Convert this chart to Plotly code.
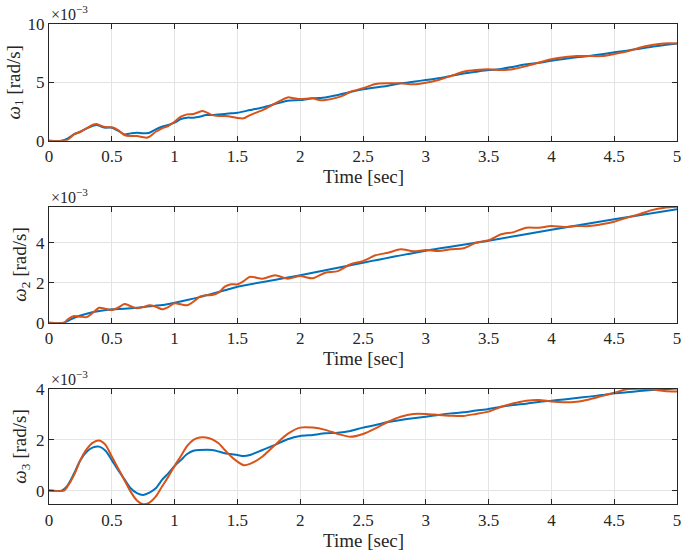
import plotly.graph_objects as go

# ---------------- data (values in units of 1e-3 rad/s) ----------------
t_w1_ref = [0, 0.1, 0.15, 0.2, 0.25, 0.3, 0.35, 0.38, 0.42, 0.45, 0.5, 0.55, 0.6, 0.65, 0.7, 0.75,
            0.8, 0.85, 0.9, 0.95, 1.0, 1.05, 1.1, 1.15, 1.2, 1.25, 1.3, 1.35, 1.4, 1.45, 1.5, 1.6,
            1.7, 1.8, 1.9, 2.0, 2.1, 2.2, 2.3, 2.4, 2.5, 2.6, 2.7, 2.8, 2.9, 3.0, 3.1, 3.2, 3.3,
            3.4, 3.5, 3.6, 3.7, 3.8, 3.9, 4.0, 4.1, 4.2, 4.3, 4.4, 4.5, 4.6, 4.7, 4.8, 4.9, 5.0]
w1_ref = [0, 0, 0.2, 0.57, 0.77, 1.06, 1.29, 1.35, 1.2, 1.12, 1.12, 0.86, 0.54, 0.63, 0.69, 0.63,
          0.69, 0.97, 1.2, 1.35, 1.55, 1.86, 1.98, 1.98, 2.06, 2.2, 2.2, 2.26, 2.29, 2.35, 2.4, 2.63,
          2.86, 3.15, 3.44, 3.49, 3.64, 3.72, 3.92, 4.18, 4.41, 4.58, 4.72, 4.93, 5.07, 5.21, 5.36,
          5.56, 5.78, 5.93, 6.07, 6.16, 6.36, 6.56, 6.70, 6.87, 7.02, 7.16, 7.27, 7.42, 7.59, 7.73,
          7.90, 8.08, 8.22, 8.36]

t_w1_act = [0, 0.12, 0.15, 0.2, 0.25, 0.3, 0.35, 0.38, 0.4, 0.45, 0.5, 0.55, 0.6, 0.65, 0.7, 0.75,
            0.78, 0.8, 0.85, 0.9, 0.95, 1.0, 1.05, 1.1, 1.15, 1.2, 1.22, 1.25, 1.3, 1.35, 1.4, 1.45,
            1.5, 1.55, 1.6, 1.7, 1.8, 1.9, 1.95, 2.0, 2.1, 2.15, 2.2, 2.3, 2.35, 2.4, 2.5, 2.6, 2.7,
            2.8, 2.9, 3.0, 3.1, 3.2, 3.3, 3.4, 3.5, 3.6, 3.7, 3.8, 3.9, 4.0, 4.1, 4.2, 4.3, 4.4,
            4.5, 4.6, 4.7, 4.8, 4.9, 5.0]
w1_act = [0, 0, 0.1, 0.54, 0.77, 1.06, 1.37, 1.43, 1.35, 1.17, 1.15, 0.92, 0.49, 0.4, 0.4, 0.29,
          0.26, 0.34, 0.77, 1.06, 1.26, 1.63, 2.06, 2.26, 2.29, 2.49, 2.55, 2.46, 2.2, 2.12, 2.12,
          2.06, 1.95, 1.92, 2.2, 2.63, 3.2, 3.72, 3.65, 3.58, 3.64, 3.49, 3.49, 3.72, 3.92, 4.21,
          4.50, 4.87, 4.93, 4.93, 4.84, 4.98, 5.21, 5.56, 5.93, 6.07, 6.13, 6.07, 6.16, 6.41, 6.70,
          6.99, 7.16, 7.27, 7.27, 7.27, 7.45, 7.65, 7.99, 8.22, 8.36, 8.36]

t_w2_ref = [0, 0.12, 0.2, 0.3, 0.4, 0.5, 0.6, 0.7, 0.8, 0.9, 1.0, 1.1, 1.2, 1.3, 1.4, 1.5,
            2.0, 2.5, 3.0, 3.5, 4.0, 4.5, 5.0]
w2_ref = [0, 0, 0.25, 0.45, 0.58, 0.67, 0.7, 0.75, 0.82, 0.88, 1.0, 1.13, 1.28, 1.45, 1.62, 1.8,
          2.37, 3.0, 3.6, 4.1, 4.65, 5.17, 5.67]

t_w2_act = [0, 0.12, 0.15, 0.2, 0.25, 0.3, 0.35, 0.4, 0.45, 0.5, 0.55, 0.6, 0.65, 0.7, 0.75, 0.8,
            0.85, 0.9, 0.95, 1.0, 1.05, 1.1, 1.15, 1.2, 1.25, 1.3, 1.35, 1.4, 1.45, 1.5, 1.55, 1.6,
            1.7, 1.8, 1.9, 2.0, 2.1, 2.2, 2.3, 2.4, 2.5, 2.6, 2.7, 2.8, 2.9, 3.0, 3.1, 3.2, 3.3,
            3.4, 3.5, 3.6, 3.7, 3.8, 3.9, 4.0, 4.1, 4.2, 4.3, 4.4, 4.5, 4.6, 4.7, 4.8, 4.9, 5.0]
w2_act = [0, 0, 0.17, 0.33, 0.3, 0.28, 0.5, 0.75, 0.7, 0.63, 0.75, 0.93, 0.83, 0.72, 0.78, 0.87,
          0.8, 0.67, 0.78, 0.97, 0.92, 0.87, 1.05, 1.3, 1.37, 1.38, 1.5, 1.8, 1.92, 1.92, 2.08, 2.3,
          2.2, 2.37, 2.2, 2.33, 2.22, 2.5, 2.58, 2.92, 3.08, 3.37, 3.5, 3.67, 3.57, 3.63, 3.58,
          3.67, 3.72, 4.0, 4.12, 4.42, 4.53, 4.75, 4.75, 4.83, 4.78, 4.83, 4.83, 4.92, 5.05, 5.25,
          5.42, 5.63, 5.75, 5.8]

t_w3_ref = [0, 0.1, 0.15, 0.2, 0.25, 0.3, 0.35, 0.4, 0.45, 0.5, 0.55, 0.6, 0.65, 0.7, 0.75, 0.8,
            0.85, 0.9, 0.95, 1.0, 1.05, 1.1, 1.15, 1.2, 1.3, 1.4, 1.5, 1.55, 1.6, 1.7, 1.8, 1.9,
            2.0, 2.1, 2.2, 2.3, 2.4, 2.5, 2.6, 2.7, 2.8, 2.9, 3.0, 3.1, 3.2, 3.3, 3.4, 3.5, 3.6,
            3.7, 3.8, 3.9, 4.0, 4.1, 4.2, 4.3, 4.4, 4.5, 4.6, 4.7, 4.8, 4.9, 5.0]
w3_ref = [0, 0, 0.22, 0.68, 1.2, 1.53, 1.7, 1.73, 1.57, 1.2, 0.81, 0.45, 0.09, -0.1, -0.17, -0.08,
          0.09, 0.42, 0.68, 0.97, 1.2, 1.44, 1.57, 1.6, 1.6, 1.47, 1.4, 1.36, 1.4, 1.6, 1.8, 2.02,
          2.15, 2.19, 2.26, 2.28, 2.35, 2.48, 2.58, 2.7, 2.78, 2.85, 2.91, 2.98, 3.04, 3.08, 3.15,
          3.21, 3.3, 3.37, 3.42, 3.49, 3.54, 3.59, 3.65, 3.7, 3.76, 3.83, 3.87, 3.92, 3.96, 3.99,
          4.02]

t_w3_act = [0, 0.12, 0.15, 0.2, 0.25, 0.3, 0.35, 0.4, 0.45, 0.5, 0.55, 0.6, 0.65, 0.7, 0.75, 0.8,
            0.85, 0.9, 0.95, 1.0, 1.05, 1.1, 1.15, 1.2, 1.25, 1.3, 1.35, 1.4, 1.45, 1.5, 1.55, 1.6,
            1.7, 1.8, 1.9, 2.0, 2.1, 2.2, 2.3, 2.4, 2.5, 2.6, 2.7, 2.8, 2.9, 3.0, 3.1, 3.2, 3.3,
            3.4, 3.5, 3.6, 3.7, 3.8, 3.9, 4.0, 4.1, 4.2, 4.3, 4.4, 4.5, 4.6, 4.7, 4.8, 4.9, 5.0]
w3_act = [0, 0, 0.18, 0.62, 1.2, 1.63, 1.89, 1.97, 1.8, 1.34, 0.88, 0.42, -0.04, -0.39, -0.54,
          -0.47, -0.24, 0.16, 0.55, 0.97, 1.36, 1.76, 2.0, 2.09, 2.09, 2.02, 1.86, 1.6, 1.34, 1.14,
          1.0, 1.05, 1.34, 1.8, 2.23, 2.48, 2.48, 2.39, 2.23, 2.12, 2.23, 2.45, 2.71, 2.91, 3.02,
          3.02, 2.98, 2.95, 2.94, 3.02, 3.11, 3.3, 3.44, 3.54, 3.57, 3.51, 3.48, 3.5, 3.59, 3.72,
          3.85, 3.99, 4.01, 3.99, 3.92, 3.9]

y_labels = ["<i>ω</i><sub>1</sub> [rad/s]", "<i>ω</i><sub>2</sub> [rad/s]", "<i>ω</i><sub>3</sub> [rad/s]"]
x_label = "Time [sec]"
exp_label = "×10<sup>−3</sup>"
y_ranges = [[0, 10], [0, 5.8], [-0.54, 4]]
y_ticks = [[0, 5, 10], [0, 2, 4], [0, 2, 4]]

# ---------------- styling ----------------
W, H = 685, 555
BLUE, ORANGE = "#0072BD", "#D95319"
AX = "#262626"
FONT = "Liberation Serif"
x_px = (49, 677)
panels_px = [(24.3, 140.7), (206.7, 322.7), (389, 504.3)]
ytitle_x = [14, 21, 21]

series = [(t_w1_ref, w1_ref, t_w1_act, w1_act),
          (t_w2_ref, w2_ref, t_w2_act, w2_act),
          (t_w3_ref, w3_ref, t_w3_act, w3_act)]

fig = go.Figure()
annotations = []
layout = dict(width=W, height=H, margin=dict(l=0, r=0, t=0, b=0, autoexpand=False),
              paper_bgcolor="white", plot_bgcolor="white", showlegend=False,
              font=dict(family=FONT, size=17, color=AX))

xdom = [x_px[0] / W, x_px[1] / W]
for i, (tr, yr, ta, ya) in enumerate(series):
    sfx = "" if i == 0 else str(i + 1)
    for tt, yy, col in ((tr, yr, BLUE), (ta, ya, ORANGE)):
        fig.add_trace(go.Scatter(x=tt, y=yy, mode="lines", xaxis="x" + sfx, yaxis="y" + sfx,
                                 line=dict(color=col, width=2, shape="spline", smoothing=0.7),
                                 hoverinfo="skip"))
    top, bot = panels_px[i]
    ydom = [1 - bot / H, 1 - top / H]
    common = dict(showline=True, linecolor=AX, linewidth=1, mirror="ticks", ticks="inside",
                  ticklen=5, tickcolor=AX, showgrid=True, gridcolor="#e4e4e4", gridwidth=1,
                  zeroline=False, automargin=False,
                  tickfont=dict(family=FONT, size=17, color=AX))
    layout["xaxis" + sfx] = dict(domain=xdom, range=[0, 5], dtick=0.5, tick0=0,
                                 anchor="y" + sfx, **common)
    layout["yaxis" + sfx] = dict(domain=ydom, range=y_ranges[i], tickvals=y_ticks[i],
                                 anchor="x" + sfx, **common)
    annotations.append(dict(text=exp_label, xref="paper", yref="paper", x=xdom[0], y=ydom[1],
                            xanchor="left", yanchor="bottom", showarrow=False, yshift=-1,
                            font=dict(family=FONT, size=16, color=AX)))
    annotations.append(dict(text=y_labels[i], xref="paper", yref="paper", x=ytitle_x[i] / W,
                            y=(ydom[0] + ydom[1]) / 2, xanchor="center", yanchor="middle",
                            textangle=-90, showarrow=False,
                            font=dict(family=FONT, size=19, color=AX)))
    annotations.append(dict(text=x_label, xref="paper", yref="paper",
                            x=(xdom[0] + xdom[1]) / 2, y=1 - (bot + 36) / H,
                            xanchor="center", yanchor="middle", showarrow=False,
                            font=dict(family=FONT, size=19, color=AX)))

layout["annotations"] = annotations
fig.update_layout(**layout)
fig.write_html("out.html", config={"displayModeBar": False},
               post_script="document.body.style.margin='0';document.body.style.overflow='hidden';")
